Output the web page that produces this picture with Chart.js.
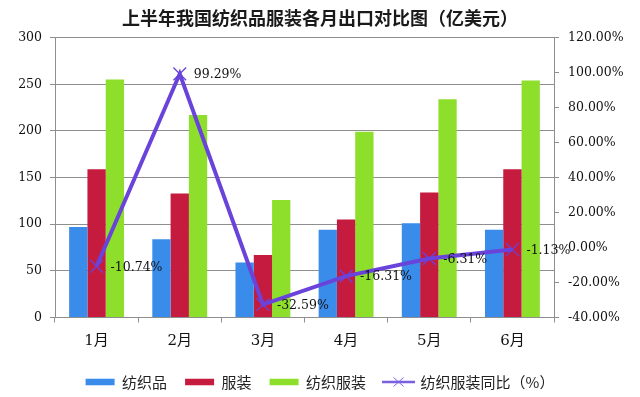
<!DOCTYPE html>
<html lang="zh-CN">
<head>
<meta charset="utf-8">
<title>上半年我国纺织品服装各月出口对比图</title>
<script src="https://cdn.jsdelivr.net/npm/chart.js@4/dist/chart.umd.min.js"></script>
<style>
  html, body { margin: 0; padding: 0; background: #fff; }
  #wrap { position: relative; width: 640px; height: 397px; }
</style>
</head>
<body>
<div id="wrap"><canvas id="chart" width="640" height="397"></canvas></div>
<script>
/* ─── Data ──────────────────────────────────────────────────────────────────── */

const MONTHS    = ['1月', '2月', '3月', '4月', '5月', '6月'];
const TEXTILES  = [97, 84, 59, 94, 101, 94];        // 纺织品, 亿美元
const GARMENTS  = [159, 133, 67, 105, 134, 159];    // 服装
const TOTAL     = [255, 217, 126, 199, 234, 254];   // 纺织服装
const YOY_PCT   = [-10.74, 99.29, -32.59, -16.31, -6.31, -1.13];  // 纺织服装同比 %

const SERIES_NAMES = ['纺织品', '服装', '纺织服装', '纺织服装同比（%）'];
const TITLE_TEXT   = '上半年我国纺织品服装各月出口对比图（亿美元）';

/* ─── Styles ────────────────────────────────────────────────────────────────── */

const COLORS     = ['#3a8cea', '#c41b3e', '#8ddf2c'];
const LINE_COLOR = '#6a43da';
const GRID_GRAY  = '#8e8e8e';
const SERIF      = "'DejaVu Serif', 'Noto Sans CJK SC', serif";
const CJK        = "'Noto Sans CJK SC', sans-serif";

/* ─── Helpers ───────────────────────────────────────────────────────────────── */

// small line + cross icon for the legend entry of the line series
function makeLineIcon() {
  const c = document.createElement('canvas');
  c.width = 33; c.height = 14;
  const g = c.getContext('2d');
  g.strokeStyle = '#7a5fe0';
  g.lineWidth = 2.5;
  g.beginPath(); g.moveTo(0, 7); g.lineTo(33, 7); g.stroke();
  g.lineWidth = 1;
  g.beginPath();
  g.moveTo(11.5, 2.5); g.lineTo(21.5, 11.5);
  g.moveTo(21.5, 2.5); g.lineTo(11.5, 11.5);
  g.stroke();
  return c;
}

// percentage labels to the right of each line point
const pctLabels = {
  id: 'pctLabels',
  afterDatasetsDraw(chart) {
    const meta = chart.getDatasetMeta(3);
    const ctx  = chart.ctx;
    ctx.save();
    ctx.font = `12.5px ${SERIF}`;
    ctx.fillStyle = '#111';
    ctx.textAlign = 'left';
    ctx.textBaseline = 'middle';
    meta.data.forEach((pt, i) => {
      ctx.fillText(YOY_PCT[i].toFixed(2) + '%', pt.x + 14, pt.y + 1);
    });
    ctx.restore();
  }
};

/* ─── Chart ─────────────────────────────────────────────────────────────────── */

const lineIcon = makeLineIcon();
const barSeries = [TEXTILES, GARMENTS, TOTAL];

new Chart(document.getElementById('chart').getContext('2d'), {
  data: {
    labels: MONTHS,
    datasets: [
      ...barSeries.map((vals, i) => ({
        type: 'bar',
        label: SERIES_NAMES[i],
        data: vals,
        backgroundColor: COLORS[i],
        borderWidth: 0,
        categoryPercentage: 0.66,
        barPercentage: 1.0,
        yAxisID: 'y',
        order: 1,
      })),
      {
        type: 'line',
        label: SERIES_NAMES[3],
        data: YOY_PCT,
        borderColor: LINE_COLOR,
        borderWidth: 4,
        backgroundColor: LINE_COLOR,
        pointStyle: 'crossRot',
        pointRadius: 9,
        pointBorderWidth: 1.3,
        pointBorderColor: LINE_COLOR,
        tension: 0,
        yAxisID: 'y1',
        order: 0,
      },
    ],
  },
  options: {
    responsive: false,
    animation: false,
    layout: { padding: { left: 0, right: 0, top: 0, bottom: 0 } },
    plugins: {
      title: {
        display: true,
        text: TITLE_TEXT,
        color: '#1a1a1a',
        font: { family: CJK, size: 18, weight: 'bold' },
        padding: { top: 7, bottom: 9 },
      },
      legend: {
        position: 'bottom',
        maxHeight: 40.5,
        labels: {
          color: '#222',
          font: { family: CJK, size: 15 },
          padding: 18,
          boxHeight: 6.5,
          usePointStyle: true,
          pointStyleWidth: 29,
          generateLabels: chart => chart.data.datasets.map((ds, i) => ({
            text: ds.label,
            fillStyle: i < 3 ? COLORS[i] : LINE_COLOR,
            strokeStyle: i < 3 ? COLORS[i] : LINE_COLOR,
            lineWidth: 0,
            pointStyle: i < 3 ? 'rect' : lineIcon,
            fontColor: '#222',
            datasetIndex: i,
            hidden: false,
          })),
        },
      },
      tooltip: { enabled: false },
    },
    scales: {
      x: {
        offset: true,
        grid: {
          offset: true,
          drawOnChartArea: false,
          drawTicks: true,
          tickLength: 5,
          color: GRID_GRAY,
        },
        border: { display: true, color: GRID_GRAY },
        ticks: { color: '#111', font: { family: SERIF, size: 15 }, padding: 10 },
        afterFit: s => { s.height = 39; },
      },
      y: {
        position: 'left',
        min: 0,
        max: 300,
        ticks: { stepSize: 50, color: '#111', font: { family: SERIF, size: 12.5 }, padding: 8 },
        grid: { color: GRID_GRAY, tickLength: 5 },
        border: { display: true, color: GRID_GRAY },
        afterFit: s => { s.width = 55; },
      },
      y1: {
        position: 'right',
        min: -40,
        max: 120,
        ticks: {
          stepSize: 20,
          color: '#111',
          font: { family: SERIF, size: 12.5 },
          padding: 9,
          callback: v => v.toFixed(2) + '%',
        },
        grid: { drawOnChartArea: false, color: GRID_GRAY, tickLength: 5 },
        border: { display: true, color: GRID_GRAY },
        afterFit: s => { s.width = 86; },
      },
    },
  },
  plugins: [pctLabels],
});
</script>
</body>
</html>
